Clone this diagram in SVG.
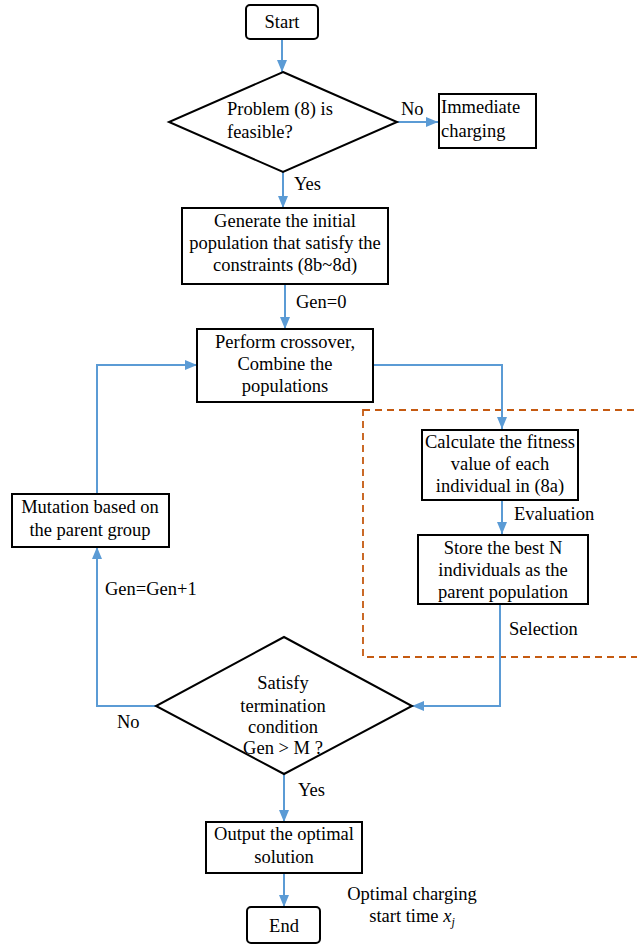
<svg xmlns="http://www.w3.org/2000/svg" width="637" height="944" viewBox="0 0 637 944">
<style>
.box{fill:#fff;stroke:#000;stroke-width:2}
.t{font-family:"Liberation Serif","Times New Roman",serif;font-size:18.5px;fill:#000}
.c{text-anchor:middle}
.ln{fill:none;stroke:#5B9BD5;stroke-width:2}
.dash{fill:none;stroke:#C55A11;stroke-width:1.8;stroke-dasharray:7,5}
</style>
<defs>
<marker id="ah" markerUnits="userSpaceOnUse" markerWidth="12" markerHeight="10" refX="12" refY="5" orient="auto">
<path d="M0,0 L12,5 L0,10 z" fill="#5B9BD5"/>
</marker>
</defs>
<rect class="dash" x="363" y="410" width="290" height="247"/>
<g id="connectors">
<line class="ln" x1="282" y1="39" x2="282" y2="72" marker-end="url(#ah)"/>
<line class="ln" x1="397" y1="122" x2="438" y2="122" marker-end="url(#ah)"/>
<line class="ln" x1="283" y1="172" x2="283" y2="208" marker-end="url(#ah)"/>
<line class="ln" x1="285" y1="284" x2="285" y2="329" marker-end="url(#ah)"/>
<polyline class="ln" points="373,365 502,365 502,429" marker-end="url(#ah)"/>
<line class="ln" x1="502" y1="500" x2="502" y2="534" marker-end="url(#ah)"/>
<polyline class="ln" points="500,604 500,706 412,706" marker-end="url(#ah)"/>
<polyline class="ln" points="156,706 97,706 97,547" marker-end="url(#ah)"/>
<polyline class="ln" points="97,494 97,365 197,365" marker-end="url(#ah)"/>
<line class="ln" x1="284" y1="774" x2="284" y2="822" marker-end="url(#ah)"/>
<line class="ln" x1="284" y1="873" x2="284" y2="907" marker-end="url(#ah)"/>
<text class="t" x="401" y="115">No</text>
<text class="t" x="294" y="190">Yes</text>
<text class="t" x="296" y="308">Gen=0</text>
<text class="t" x="514" y="520">Evaluation</text>
<text class="t" x="509" y="635">Selection</text>
<text class="t" x="105" y="595">Gen=Gen+1</text>
<text class="t" x="117" y="728">No</text>
<text class="t" x="298" y="796">Yes</text>
</g>
<g id="start">
<rect class="box" x="246" y="5" width="72" height="34" rx="4"/>
<text class="t c" x="282" y="28">Start</text>
</g>
<g id="feasible">
<polygon class="box" points="283,72 397,122 283,172 169,122"/>
<text class="t" x="227" y="115">Problem (8) is</text>
<text class="t" x="227" y="138">feasible?</text>
</g>
<g id="immediate">
<rect class="box" x="439" y="94" width="97" height="54"/>
<text class="t" x="441" y="113">Immediate</text>
<text class="t" x="441" y="137">charging</text>
</g>
<g id="generate">
<rect class="box" x="182" y="208" width="206" height="76"/>
<text class="t c" x="285" y="227">Generate the initial</text>
<text class="t c" x="285" y="249">population that satisfy the</text>
<text class="t c" x="285" y="271">constraints (8b~8d)</text>
</g>
<g id="crossover">
<rect class="box" x="197" y="329" width="176" height="73"/>
<text class="t c" x="285" y="348">Perform crossover,</text>
<text class="t c" x="285" y="370">Combine the</text>
<text class="t c" x="285" y="392">populations</text>
</g>
<g id="fitness">
<rect class="box" x="422" y="430" width="156" height="70"/>
<text class="t c" x="500" y="448">Calculate the fitness</text>
<text class="t c" x="500" y="470">value of each</text>
<text class="t c" x="500" y="492">individual in (8a)</text>
</g>
<g id="store">
<rect class="box" x="418" y="535" width="170" height="69"/>
<text class="t c" x="503" y="554">Store the best N</text>
<text class="t c" x="503" y="576">individuals as the</text>
<text class="t c" x="503" y="598">parent population</text>
</g>
<g id="mutation">
<rect class="box" x="12" y="494" width="157" height="53"/>
<text class="t c" x="90" y="513">Mutation based on</text>
<text class="t c" x="90" y="536">the parent group</text>
</g>
<g id="termination">
<polygon class="box" points="284,637 412,706 284,774 156,706"/>
<text class="t c" x="283" y="689">Satisfy</text>
<text class="t c" x="283" y="712">termination</text>
<text class="t c" x="283" y="733">condition</text>
<text class="t c" x="283" y="754">Gen &gt; M ?</text>
</g>
<g id="output">
<rect class="box" x="206" y="822" width="156" height="51"/>
<text class="t c" x="284" y="840">Output the optimal</text>
<text class="t c" x="284" y="863">solution</text>
</g>
<g id="end">
<rect class="box" x="247" y="907" width="73" height="36" rx="4"/>
<text class="t c" x="284" y="932">End</text>
</g>
<g id="note">
<text class="t c" x="412" y="900">Optimal charging</text>
<text class="t c" x="412" y="922">start time <tspan font-style="italic">x</tspan><tspan font-style="italic" font-size="12px" dy="4">j</tspan></text>
</g>
</svg>
